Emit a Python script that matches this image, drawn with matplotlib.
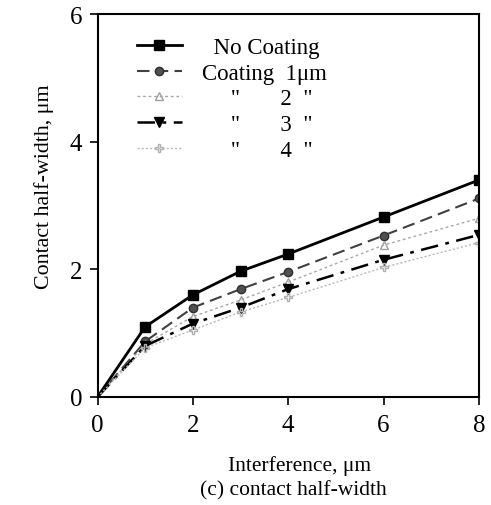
import matplotlib
matplotlib.use("Agg")
import matplotlib.pyplot as plt

plt.rcParams['font.family'] = ['Liberation Serif', 'DejaVu Serif']

x = [0, 1, 2, 3, 4, 6, 8]
no_coating = [0, 1.10, 1.60, 1.97, 2.24, 2.82, 3.40]
coating_1 = [0, 0.87, 1.40, 1.69, 1.96, 2.53, 3.11]
coating_2 = [0, 0.83, 1.26, 1.52, 1.80, 2.38, 2.80]
coating_3 = [0, 0.80, 1.15, 1.40, 1.69, 2.15, 2.54]
coating_4 = [0, 0.77, 1.05, 1.33, 1.56, 2.03, 2.42]

labels = ["  No Coating", "Coating  1\u03bcm", '     "       2  "', '     "       3  "', '     "       4  "']
xticks = [0, 2, 4, 6, 8]
yticks = [0, 2, 4, 6]

fig = plt.figure(figsize=(4.91, 5.06), dpi=100)
ax = fig.add_axes([97.5/491, 1-398/506, (479-97.5)/491, (398-15)/506])

mk = list(range(1, 7))
h1, = ax.plot(x, no_coating, color='black', lw=2.0, marker='s', ms=7, ls='-', markevery=mk)
h2, = ax.plot(x, coating_1, color='#404040', lw=1.5, ls=(0, (6, 3)), marker='o', ms=6,
              mfc='#505050', mec='#303030', markevery=mk)
h3, = ax.plot(x, coating_2, color='#a8a8a8', lw=1.0, ls=(0, (2, 2)), marker='^', ms=6,
              mfc='none', mec='#a0a0a0', markevery=mk)
h4, = ax.plot(x, coating_3, color='black', lw=1.8, ls=(0, (7, 3, 1.5, 3)), marker='v', ms=7,
              mfc='black', mec='black', markevery=mk)
h5, = ax.plot(x, coating_4, color='#b8b8b8', lw=1.0, ls=(0, (1.5, 1.5)), marker='P', ms=6,
              mfc='none', mec='#b0b0b0', markevery=mk)

ax.set_xlim(0, 8)
ax.set_ylim(0, 6)
ax.set_xticks(xticks)
ax.set_yticks(yticks)
ax.tick_params(labelsize=18, direction='out', length=6, width=1.2)
ax.tick_params(axis='x', pad=6.5)
ax.tick_params(axis='y', pad=5)
for s in ax.spines.values():
    s.set_linewidth(1.5)

fig.text(300/491, 1-466/506, "Interference, \u03bcm", fontsize=15.5, ha='center', va='center')
fig.text(293/491, 1-491/506, "(c) contact half-width", fontsize=15.5, ha='center', va='center')
ax.set_ylabel("Contact half-width, \u03bcm", fontsize=15.8)
ax.yaxis.set_label_coords(-0.115, 0.551)

leg = ax.legend([h1, h2, h3, h4, h5], labels, loc='upper left', frameon=False, fontsize=16.5,
                handlelength=1.95, handletextpad=0.9, labelspacing=0.2,
                borderpad=0, borderaxespad=0, bbox_to_anchor=(0.1035, 0.94))

fig.savefig("out.png", dpi=100)
